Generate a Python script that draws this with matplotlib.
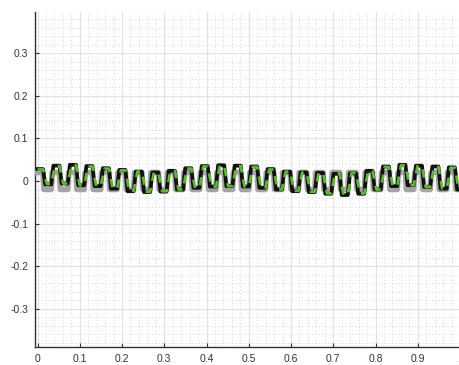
import numpy as np
import matplotlib
matplotlib.use("Agg")
import matplotlib.pyplot as plt
from matplotlib.ticker import MultipleLocator

plt.rcParams["font.family"] = ["Liberation Sans", "DejaVu Sans"]
plt.rcParams["axes.unicode_minus"] = False

# square-wave timing (seconds)
first_edge = 0.013
half_period = 0.0195
t_end = 1.0

# plateau level of every half cycle (starts high)
ref_levels = [
    0.02, -0.02, 0.02, -0.02, 0.02, -0.02, 0.02, -0.02, 0.02, -0.02,
    0.02, -0.02, 0.02, -0.02, 0.02, -0.02, 0.02, -0.02, 0.02, -0.02,
    0.02, -0.02, 0.02, -0.02, 0.02, -0.02, 0.02, -0.02, 0.02, -0.02,
    0.02, -0.02, 0.02, -0.02, 0.02, -0.02, 0.02, -0.02, 0.02, -0.02,
    0.02, -0.02, 0.02, -0.02, 0.02, -0.02, 0.02, -0.02, 0.02, -0.02,
    0.02, -0.02,
]
meas_levels = [
    0.028, -0.008, 0.036, -0.006, 0.038, -0.010, 0.035, -0.012, 0.030, -0.018,
    0.026, -0.024, 0.022, -0.026, 0.020, -0.025, 0.024, -0.020, 0.030, -0.016,
    0.035, -0.013, 0.037, -0.012, 0.036, -0.013, 0.034, -0.016, 0.028, -0.020,
    0.022, -0.024, 0.020, -0.026, 0.019, -0.030, 0.017, -0.033, 0.018, -0.030,
    0.024, -0.020, 0.034, -0.012, 0.038, -0.010, 0.036, -0.014, 0.034, -0.018,
    0.032, -0.020,
]
est_levels = [
    0.027, -0.007, 0.035, -0.006, 0.037, -0.010, 0.034, -0.012, 0.029, -0.018,
    0.025, -0.023, 0.022, -0.025, 0.020, -0.024, 0.024, -0.020, 0.029, -0.016,
    0.034, -0.013, 0.036, -0.012, 0.035, -0.013, 0.033, -0.016, 0.027, -0.020,
    0.022, -0.023, 0.020, -0.025, 0.019, -0.029, 0.018, -0.032, 0.019, -0.029,
    0.024, -0.020, 0.033, -0.012, 0.037, -0.010, 0.035, -0.014, 0.033, -0.018,
    0.031, -0.020,
]


def step_path(levels, ramp):
    edges = first_edge + half_period * np.arange(len(levels) - 1)
    t = [0.0]
    y = [levels[0]]
    for k, e in enumerate(edges):
        t += [e, min(e + ramp, t_end)]
        y += [levels[k], levels[k + 1]]
    t.append(t_end)
    y.append(levels[-1])
    return np.array(t), np.array(y)


fig = plt.figure(figsize=(4.59, 3.65), dpi=100)
ax = fig.add_axes([35 / 459, 18 / 365, 425 / 459, 335 / 365])

t, y = step_path(ref_levels, 0.002)
ax.plot(t, y, color="#a3a3a3", lw=4.0, zorder=3)
t, y = step_path(meas_levels, 0.005)
ax.plot(t, y, color="#111111", lw=2.7, zorder=4)
t, y = step_path(est_levels, 0.009)
ax.plot(t, y, color="#5cb82e", lw=2.0, ls=(0, (3, 2.5)), zorder=5)

ax.set_xlim(-0.006, 1.0)
ax.set_ylim(-0.39, 0.397)

ax.xaxis.set_minor_locator(MultipleLocator(0.02))
ax.yaxis.set_minor_locator(MultipleLocator(0.02))
ax.set_xticks(np.arange(0, 1.01, 0.1))
ax.set_xticklabels(["0", "0.1", "0.2", "0.3", "0.4", "0.5", "0.6", "0.7", "0.8", "0.9", "1"])
ax.set_yticks([-0.3, -0.2, -0.1, 0, 0.1, 0.2, 0.3])
ax.set_yticklabels(["-0.3", "-0.2", "-0.1", "0", "0.1", "0.2", "0.3"])

ax.grid(which="major", color="#e3e3e3", lw=0.9, ls="-")
ax.grid(which="minor", color="#c8c8c8", lw=0.6, ls=(0, (1, 3)))
ax.set_axisbelow(True)

ax.tick_params(which="major", direction="in", length=3, width=0.8, colors="#333333",
               labelsize=7.5, labelcolor="#333333", pad=5)
ax.tick_params(which="minor", length=0)

for side in ["top", "right"]:
    ax.spines[side].set_visible(False)
for side in ["left", "bottom"]:
    ax.spines[side].set_color("#333333")
    ax.spines[side].set_linewidth(1.0)

fig.savefig("out.png", dpi=100)
